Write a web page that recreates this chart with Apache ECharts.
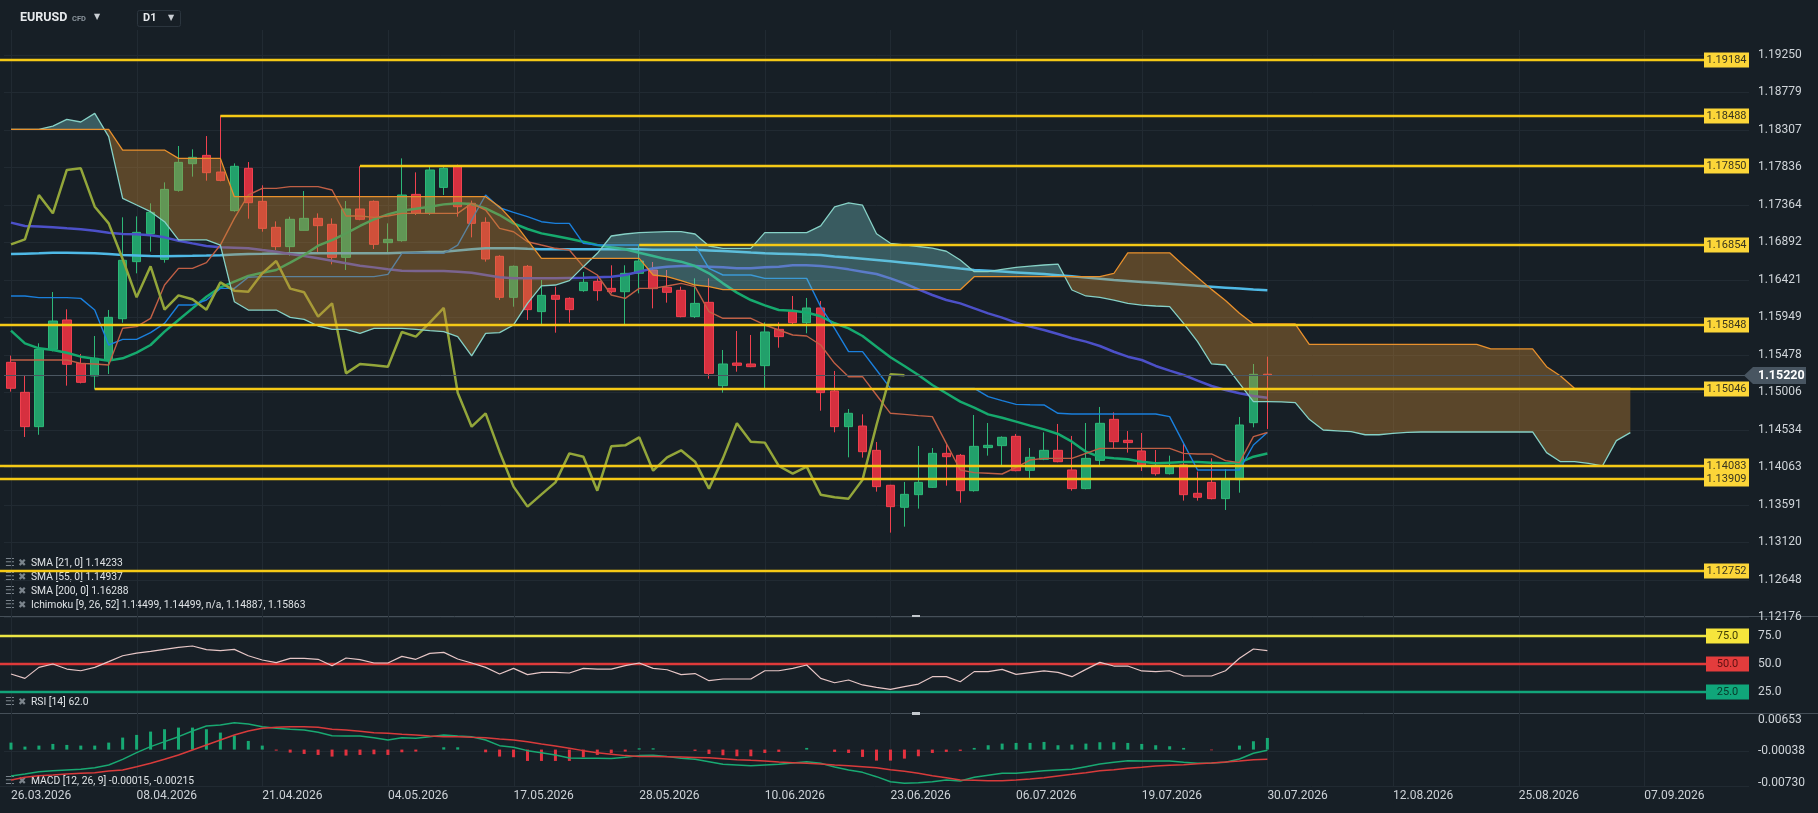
<!DOCTYPE html>
<html><head><meta charset="utf-8">
<script src="https://cdn.jsdelivr.net/npm/echarts@6/dist/echarts.min.js"></script>
<style>html,body{margin:0;padding:0;background:#171f26;}#c{width:1818px;height:813px;}</style>
</head><body><div id="c"></div>
<script>
// ---------------- DATA ----------------
const dateLabels = ["26.03.2026","08.04.2026","21.04.2026","04.05.2026","17.05.2026","28.05.2026","10.06.2026","23.06.2026","06.07.2026","19.07.2026","30.07.2026","12.08.2026","25.08.2026","07.09.2026"];

const opens = [1.15382,1.15004,1.14572,1.15545,1.15915,1.15369,1.15210,1.15411,1.15931,1.16649,
1.17001,1.16678,1.17547,1.17882,1.17987,1.17777,1.17291,1.17824,1.17408,1.17081,
1.16838,1.17043,1.17194,1.17119,1.16703,1.17312,1.17408,1.16888,1.16913,1.17496,
1.17257,1.17584,1.17853,1.17383,1.17144,1.16716,1.16200,1.16590,1.16020,1.16225,
1.16187,1.16284,1.16401,1.16313,1.16271,1.16502,1.16544,1.16326,1.16288,1.15957,
1.16137,1.15088,1.15373,1.15361,1.15340,1.15797,1.16020,1.15881,1.16066,1.15021,
1.14572,1.14580,1.14274,1.13834,1.13557,1.13716,1.13808,1.14236,1.14211,1.13766,
1.14308,1.14333,1.14450,1.14022,1.14161,1.14274,1.14027,1.13792,1.14148,1.14664,
1.14400,1.14266,1.14081,1.13980,1.14090,1.13733,1.13871,1.13666,1.13905,1.14622,
1.15232];
const closes = [1.15055,1.14572,1.15545,1.15902,1.15357,1.15130,1.15432,1.15948,1.16666,1.17018,
1.17270,1.17559,1.17899,1.17962,1.17769,1.17672,1.17849,1.17391,1.17068,1.16838,
1.17182,1.17194,1.17102,1.16703,1.17312,1.17182,1.16867,1.16930,1.17488,1.17257,
1.17803,1.17824,1.17341,1.17131,1.16682,1.16200,1.16590,1.16045,1.16225,1.16175,
1.16045,1.16389,1.16284,1.16271,1.16502,1.16657,1.16309,1.16263,1.15957,1.16124,
1.15243,1.15361,1.15344,1.15327,1.15764,1.15705,1.15881,1.16066,1.15000,1.14572,
1.14740,1.14257,1.13817,1.13565,1.13720,1.13871,1.14236,1.14194,1.13766,1.14324,
1.14337,1.14438,1.14018,1.14186,1.14274,1.14131,1.13792,1.14173,1.14614,1.14383,
1.14371,1.14077,1.13980,1.14069,1.13716,1.13683,1.13666,1.13905,1.14593,1.15231,
1.15220];
const lows = [1.15013,1.14442,1.14470,1.15520,1.15088,1.15117,1.15042,1.15235,1.15881,1.16502,
1.16775,1.16636,1.17530,1.17719,1.17668,1.17660,1.17278,1.17190,1.17026,1.16796,
1.16724,1.17040,1.16766,1.16615,1.16544,1.17170,1.16808,1.16754,1.16900,1.17236,
1.17236,1.17488,1.17215,1.16955,1.16649,1.16166,1.16082,1.15915,1.15843,1.15755,
1.15881,1.16270,1.16158,1.16250,1.15856,1.16250,1.16061,1.16133,1.15948,1.15940,
1.15176,1.15000,1.15264,1.15320,1.15042,1.15566,1.15852,1.15747,1.14773,1.14501,
1.14186,1.14182,1.13754,1.13238,1.13313,1.13540,1.13800,1.13829,1.13615,1.13754,
1.14207,1.14069,1.14010,1.13909,1.14150,1.14123,1.13766,1.13783,1.14077,1.14299,
1.14245,1.14014,1.13955,1.13970,1.13641,1.13641,1.13657,1.13523,1.13741,1.14564,
1.14543];
const highs = [1.15466,1.15210,1.15621,1.16267,1.16049,1.15487,1.15713,1.16041,1.17207,1.17219,
1.17383,1.17647,1.18105,1.18063,1.18230,1.18488,1.17886,1.17903,1.17610,1.17156,
1.17215,1.17538,1.17257,1.17194,1.17412,1.17850,1.17420,1.17131,1.17949,1.17773,
1.17865,1.17865,1.17870,1.17417,1.17207,1.16730,1.16600,1.16607,1.16418,1.16334,
1.16200,1.16519,1.16439,1.16603,1.16603,1.16854,1.16645,1.16544,1.16334,1.16439,
1.16439,1.15537,1.15776,1.15726,1.15885,1.15885,1.16217,1.16192,1.16154,1.15273,
1.14794,1.14727,1.14379,1.13840,1.13876,1.14329,1.14303,1.14354,1.14228,1.14719,
1.14618,1.14450,1.14480,1.14303,1.14501,1.14606,1.14455,1.14618,1.14820,1.14752,
1.14517,1.14492,1.14278,1.14207,1.14354,1.14006,1.14173,1.14039,1.14694,1.15361,
1.15453];

const sma21 = [1.15780,1.15621,1.15558,1.15537,1.15503,1.15453,1.15428,1.15403,1.15432,1.15503,
1.15600,1.15768,1.15915,1.16061,1.16208,1.16326,1.16397,1.16468,1.16510,1.16544,
1.16636,1.16733,1.16850,1.16921,1.17005,1.17098,1.17182,1.17244,1.17291,1.17315,
1.17341,1.17370,1.17383,1.17374,1.17320,1.17236,1.17131,1.17060,1.17005,1.16972,
1.16938,1.16900,1.16858,1.16829,1.16804,1.16762,1.16720,1.16678,1.16649,1.16594,
1.16502,1.16376,1.16259,1.16166,1.16099,1.16041,1.16030,1.16008,1.15961,1.15873,
1.15810,1.15713,1.15579,1.15445,1.15336,1.15223,1.15096,1.14992,1.14887,1.14811,
1.14727,1.14685,1.14635,1.14585,1.14538,1.14480,1.14383,1.14257,1.14190,1.14173,
1.14161,1.14131,1.14110,1.14119,1.14127,1.14127,1.14119,1.14110,1.14119,1.14194,
1.14233];
const sma55 = [1.17140,1.17098,1.17090,1.17081,1.17068,1.17056,1.17039,1.17014,1.16997,1.16993,
1.16980,1.16955,1.16913,1.16879,1.16846,1.16829,1.16825,1.16817,1.16795,1.16774,
1.16745,1.16720,1.16691,1.16661,1.16628,1.16598,1.16577,1.16552,1.16536,1.16531,
1.16531,1.16531,1.16523,1.16510,1.16481,1.16452,1.16439,1.16439,1.16439,1.16439,
1.16443,1.16447,1.16452,1.16460,1.16481,1.16523,1.16565,1.16586,1.16594,1.16594,
1.16586,1.16578,1.16565,1.16565,1.16578,1.16586,1.16603,1.16603,1.16594,1.16577,
1.16552,1.16523,1.16494,1.16439,1.16376,1.16301,1.16229,1.16166,1.16124,1.16061,
1.15998,1.15944,1.15881,1.15831,1.15789,1.15738,1.15684,1.15642,1.15587,1.15515,
1.15453,1.15411,1.15336,1.15277,1.15222,1.15151,1.15084,1.15034,1.14992,1.14958,
1.14937];
const sma200 = [1.16745,1.16750,1.16754,1.16760,1.16762,1.16758,1.16754,1.16745,1.16733,1.16727,
1.16720,1.16718,1.16720,1.16722,1.16725,1.16730,1.16740,1.16745,1.16748,1.16752,
1.16754,1.16755,1.16755,1.16755,1.16755,1.16755,1.16755,1.16755,1.16760,1.16765,
1.16770,1.16775,1.16790,1.16805,1.16817,1.16817,1.16817,1.16810,1.16804,1.16804,
1.16804,1.16804,1.16804,1.16804,1.16804,1.16804,1.16798,1.16798,1.16798,1.16798,
1.16790,1.16782,1.16773,1.16763,1.16754,1.16749,1.16744,1.16738,1.16733,1.16715,
1.16700,1.16686,1.16670,1.16653,1.16636,1.16619,1.16600,1.16581,1.16562,1.16544,
1.16534,1.16524,1.16514,1.16504,1.16494,1.16479,1.16464,1.16448,1.16433,1.16418,
1.16406,1.16394,1.16382,1.16370,1.16358,1.16346,1.16334,1.16322,1.16310,1.16298,
1.16288];
const tenkan = [1.16217,1.16217,1.16196,1.16196,1.16196,1.16187,1.16041,1.15600,1.15671,1.15671,
1.15755,1.15873,1.16103,1.16103,1.16166,1.16313,1.16313,1.16452,1.16460,1.16460,
1.16460,1.16460,1.16460,1.16460,1.16460,1.16460,1.16460,1.16489,1.16754,1.16762,
1.16754,1.16754,1.16858,1.17173,1.17488,1.17328,1.17270,1.17215,1.17152,1.17131,
1.17131,1.16880,1.16859,1.16859,1.16859,1.16859,1.16859,1.16859,1.16859,1.16859,
1.16565,1.16481,1.16481,1.16481,1.16439,1.16439,1.16439,1.16439,1.16083,1.15810,
1.15516,1.15516,1.15285,1.15054,1.15054,1.15054,1.15054,1.15054,1.15054,1.15054,
1.14950,1.14899,1.14853,1.14848,1.14845,1.14740,1.14731,1.14731,1.14731,1.14731,
1.14731,1.14731,1.14731,1.14698,1.14362,1.14027,1.14027,1.14027,1.14027,1.14341,
1.14499];
const kijun = [1.15411,1.15411,1.15411,1.15411,1.15411,1.15369,1.15360,1.15348,1.15810,1.15831,
1.15935,1.16355,1.16565,1.16565,1.16636,1.16858,1.17194,1.17488,1.17572,1.17572,
1.17593,1.17593,1.17593,1.17551,1.17224,1.17224,1.17207,1.17224,1.17257,1.17257,
1.17257,1.17257,1.17257,1.17383,1.17299,1.17068,1.17026,1.16900,1.16858,1.16817,
1.16796,1.16586,1.16481,1.16229,1.16187,1.16313,1.16313,1.16343,1.16376,1.16334,
1.16020,1.15936,1.15936,1.15936,1.15852,1.15789,1.15726,1.15713,1.15600,1.15369,
1.15201,1.15201,1.14971,1.14740,1.14727,1.14711,1.14698,1.14362,1.14027,1.13993,
1.13985,1.13976,1.14060,1.14152,1.14173,1.14173,1.14173,1.14236,1.14299,1.14299,
1.14299,1.14299,1.14299,1.14299,1.14236,1.14228,1.14228,1.14144,1.14119,1.14446,
1.14499];
const senkouA = [1.18314,1.18314,1.18314,1.18356,1.18440,1.18407,1.18516,1.18222,1.17446,1.17362,
1.17278,1.17152,1.16922,1.16922,1.16922,1.16858,1.16145,1.16040,1.16040,1.16040,
1.15948,1.15923,1.15839,1.15797,1.15797,1.15747,1.15810,1.15810,1.15810,1.15797,
1.15780,1.15768,1.15705,1.15462,1.15747,1.15755,1.15852,1.16124,1.16343,1.16355,
1.16410,1.16586,1.16754,1.16972,1.16997,1.17014,1.17020,1.17026,1.17026,1.16997,
1.16846,1.16817,1.16817,1.16817,1.17014,1.17014,1.17014,1.17014,1.17100,1.17340,
1.17390,1.17360,1.17000,1.16880,1.16860,1.16840,1.16820,1.16780,1.16670,1.16523,
1.16523,1.16552,1.16577,1.16594,1.16607,1.16619,1.16292,1.16217,1.16200,1.16166,
1.16124,1.16103,1.16091,1.16082,1.15873,1.15642,1.15361,1.15348,1.15117,1.14887,
1.14887,1.14883,1.14874,1.14664,1.14530,1.14520,1.14509,1.14470,1.14470,1.14488,
1.14501,1.14505,1.14505,1.14505,1.14505,1.14505,1.14505,1.14505,1.14505,1.14505,
1.14245,1.14131,1.14131,1.14110,1.14077,1.14396,1.14497];
const senkouB = [1.18314,1.18314,1.18314,1.18314,1.18314,1.18314,1.18314,1.18314,1.18054,1.18054,
1.18054,1.18054,1.17949,1.17949,1.17949,1.17949,1.17467,1.17467,1.17467,1.17467,
1.17467,1.17467,1.17467,1.17467,1.17467,1.17467,1.17467,1.17467,1.17467,1.17467,
1.17467,1.17467,1.17467,1.17467,1.17467,1.17341,1.17152,1.16921,1.16691,1.16691,
1.16691,1.16691,1.16691,1.16691,1.16691,1.16691,1.16481,1.16460,1.16410,1.16355,
1.16334,1.16296,1.16296,1.16296,1.16296,1.16296,1.16296,1.16296,1.16296,1.16296,
1.16296,1.16296,1.16296,1.16296,1.16296,1.16296,1.16296,1.16296,1.16296,1.16460,
1.16460,1.16460,1.16460,1.16460,1.16460,1.16460,1.16460,1.16460,1.16460,1.16500,
1.16760,1.16760,1.16760,1.16760,1.16600,1.16450,1.16300,1.16160,1.16000,1.15864,
1.15864,1.15864,1.15864,1.15608,1.15608,1.15608,1.15608,1.15608,1.15608,1.15608,
1.15608,1.15608,1.15608,1.15608,1.15608,1.15608,1.15550,1.15550,1.15550,1.15550,
1.15327,1.15210,1.15055,1.15055,1.15055,1.15055,1.15055];

const rsi = [41.1,37.2,47.0,50.0,45.5,44.0,47.0,52.1,57.4,59.8,
61.3,63.1,64.9,66.1,62.8,61.9,63.1,57.4,53.6,51.2,
55.1,55.1,54.2,48.5,55.4,53.9,50.9,50.9,56.8,54.2,
59.5,60.4,54.5,50.9,47.0,41.1,46.1,40.5,42.6,42.6,
42.0,46.1,45.5,45.5,48.5,50.9,46.1,44.9,40.5,41.5,
35.1,36.6,36.6,36.6,44.0,44.0,46.1,49.1,37.2,33.3,
35.7,31.3,29.2,27.4,29.8,32.1,38.7,38.7,34.2,43.2,
43.2,45.2,40.8,42.3,43.8,42.6,38.7,45.2,51.5,48.2,
48.2,43.8,43.2,44.0,39.3,39.3,39.3,44.0,55.1,63.4,
62.0];
const macd = [-0.00582,-0.00538,-0.00487,-0.00465,-0.00450,-0.00435,-0.00399,-0.00340,-0.00215,-0.00068,
0.00065,0.00175,0.00285,0.00410,0.00521,0.00543,0.00594,0.00565,0.00506,0.00469,
0.00447,0.00432,0.00381,0.00307,0.00300,0.00300,0.00263,0.00212,0.00263,0.00249,
0.00285,0.00322,0.00300,0.00285,0.00212,0.00087,0.00050,-0.00023,-0.00068,-0.00119,
-0.00185,-0.00192,-0.00192,-0.00199,-0.00170,-0.00133,-0.00126,-0.00155,-0.00192,-0.00214,
-0.00266,-0.00325,-0.00340,-0.00355,-0.00340,-0.00325,-0.00296,-0.00266,-0.00303,-0.00384,
-0.00450,-0.00502,-0.00597,-0.00708,-0.00744,-0.00730,-0.00708,-0.00671,-0.00693,-0.00612,
-0.00568,-0.00524,-0.00524,-0.00494,-0.00465,-0.00450,-0.00435,-0.00377,-0.00318,-0.00281,
-0.00244,-0.00251,-0.00251,-0.00251,-0.00281,-0.00303,-0.00296,-0.00281,-0.00207,-0.00082,
-0.00015];
const macdSignal = [-0.00671,-0.00612,-0.00575,-0.00559,-0.00538,-0.00523,-0.00509,-0.00472,-0.00450,-0.00377,
-0.00303,-0.00215,-0.00119,-0.00008,0.00102,0.00212,0.00322,0.00410,0.00469,0.00491,
0.00506,0.00506,0.00491,0.00447,0.00432,0.00403,0.00373,0.00359,0.00337,0.00322,
0.00300,0.00285,0.00285,0.00271,0.00263,0.00234,0.00212,0.00175,0.00124,0.00080,
0.00029,-0.00023,-0.00068,-0.00104,-0.00133,-0.00150,-0.00155,-0.00160,-0.00165,-0.00172,
-0.00180,-0.00200,-0.00222,-0.00237,-0.00251,-0.00273,-0.00288,-0.00303,-0.00318,-0.00340,
-0.00354,-0.00376,-0.00399,-0.00443,-0.00479,-0.00524,-0.00575,-0.00619,-0.00671,-0.00678,
-0.00685,-0.00685,-0.00671,-0.00649,-0.00619,-0.00582,-0.00546,-0.00509,-0.00465,-0.00443,
-0.00413,-0.00391,-0.00362,-0.00347,-0.00332,-0.00310,-0.00296,-0.00273,-0.00251,-0.00222,
-0.00215];
const macdHist = [0.00154,0.00066,0.00088,0.00125,0.00103,0.00088,0.00088,0.00154,0.00265,0.00324,
0.00397,0.00449,0.00485,0.00485,0.00449,0.00375,0.00309,0.00191,0.00088,-0.00022,
-0.00066,-0.00096,-0.00118,-0.00154,-0.00132,-0.00118,-0.00103,-0.00118,-0.00059,-0.00044,
0,0.00051,0.00051,0,-0.00059,-0.00154,-0.00169,-0.00250,-0.00250,-0.00250,
-0.00250,-0.00169,-0.00118,-0.00081,-0.00044,0.00029,0.00029,0,0,-0.00029,
-0.00096,-0.00125,-0.00147,-0.00147,-0.00074,-0.00051,0,0.00037,0,-0.00051,
-0.00074,-0.00162,-0.00243,-0.00243,-0.00199,-0.00147,-0.00074,-0.00051,-0.00029,0.00037,
0.00096,0.00132,0.00147,0.00147,0.00169,0.00096,0.00110,0.00132,0.00162,0.00162,
0.00147,0.00125,0.00096,0.00074,0.00037,0,-0.00015,0,0.00088,0.00184,
0.00257];

const levelPrices = [1.19184,1.18488,1.17850,1.16854,1.15848,1.15046,1.14083,1.13909,1.12752];
const levelStartBar = [null,15,25,45,null,6,null,null,null];
const lastPrice = 1.15220;
const priceTicks = [1.19250,1.18779,1.18307,1.17836,1.17364,1.16892,1.16421,1.15949,1.15478,1.15006,1.14534,1.14063,1.13591,1.13120,1.12648,1.12176];
const rsiLevels = [75,50,25];
const macdTicks = [0.00653,-0.00038,-0.00730];
const legendTexts = ["SMA [21, 0] 1.14233","SMA [55, 0] 1.14937","SMA [200, 0] 1.16288","Ichimoku [9, 26, 52] 1.14499, 1.14499, n/a, 1.14887, 1.15863"];
const rsiLegend = "RSI [14] 62.0";
const macdLegend = "MACD [12, 26, 9] -0.00015, -0.00215";

// ---------------- LAYOUT / STYLE ----------------
const AXIS_SLOTS = 125, LABEL_STEP = 9, CHIKOU_SHIFT = 26;
const categories = Array.from({length: AXIS_SLOTS}, (_, i) => String(i));
const chikou = closes.slice(CHIKOU_SHIFT);
const FONT = 'Roboto';
const GRID_COLOR = '#212a32';
const rsiLevelStyle = [
  {line:'#ece544', box:'#f6e53c', text:'#3d3a05'},
  {line:'#df3a3a', box:'#e33c3c', text:'#5c1111'},
  {line:'#12a57a', box:'#10a67a', text:'#08382a'}
];

const chart = echarts.init(document.getElementById('c'), null, {renderer:'canvas'});

function gridLines(hTicks, bottomLine) {
  return function (params, api) {
    const cs = params.coordSys, ch = [];
    for (let k = 0; k < dateLabels.length; k++) {
      const x = Math.round(api.coord([k * LABEL_STEP, hTicks.length ? hTicks[0] : 0])[0]) + 0.5;
      ch.push({type:'line', shape:{x1:x, y1:cs.y, x2:x, y2:cs.y + cs.height}, style:{stroke:GRID_COLOR, lineWidth:1}});
    }
    hTicks.forEach(v => {
      const y = Math.round(api.coord([0, v])[1]) + 0.5;
      ch.push({type:'line', shape:{x1:cs.x, y1:y, x2:cs.x + cs.width, y2:y}, style:{stroke:GRID_COLOR, lineWidth:1}});
    });
    if (bottomLine) {
      const y = Math.round(cs.y + cs.height) - 0.5;
      ch.push({type:'line', shape:{x1:0, y1:y, x2:cs.x + cs.width, y2:y}, style:{stroke:GRID_COLOR, lineWidth:1}});
    }
    return {type:'group', children: ch};
  };
}

function cloud(params, api) {
  const teal = 'rgba(120,200,200,0.36)', brown = 'rgba(200,135,50,0.38)';
  const ch = [];
  let aPts = [], bPts = [], sign = 0;
  const poly = (a, b, s) => ({type:'polygon', shape:{points: a.concat(b.slice().reverse())}, style:{fill: s >= 0 ? teal : brown}});
  for (let i = 0; i < senkouA.length; i++) {
    const d = senkouA[i] - senkouB[i];
    const pa = api.coord([i, senkouA[i]]), pb = api.coord([i, senkouB[i]]);
    const s = d > 0 ? 1 : (d < 0 ? -1 : 0);
    if (i > 0) {
      const dp = senkouA[i-1] - senkouB[i-1];
      if (dp * d < 0) {
        const t = dp / (dp - d);
        const pa0 = api.coord([i-1, senkouA[i-1]]);
        const x = [pa0[0] + t * (pa[0] - pa0[0]), pa0[1] + t * (pa[1] - pa0[1])];
        aPts.push(x); bPts.push(x);
        ch.push(poly(aPts, bPts, sign));
        aPts = [x]; bPts = [x]; sign = s;
      }
    }
    if (sign === 0) sign = s;
    aPts.push(pa); bPts.push(pb);
  }
  ch.push(poly(aPts, bPts, sign));
  return {type:'group', children: ch};
}

function levelItem(params, api) {
  const cs = params.coordSys;
  const sb = api.value(0), v = api.value(1);
  const y = Math.round(api.coord([0, v])[1]);
  const x0 = isNaN(sb) ? 0 : api.coord([sb, v])[0];
  const xr = cs.x + cs.width;
  return {type:'group', children:[
    {type:'line', shape:{x1:x0, y1:y, x2:xr, y2:y}, style:{stroke:'#f5c916', lineWidth:2.5}},
    {type:'rect', shape:{x:xr-45, y:y-7.5, width:45, height:15}, style:{fill:'#fcd638'}},
    {type:'text', style:{text:v.toFixed(5), x:xr-22.5, y:y+0.5, align:'center', verticalAlign:'middle', fill:'#38351f', fontSize:11, fontFamily:FONT}}
  ]};
}

function lastPriceItem(params, api) {
  const cs = params.coordSys, v = api.value(1);
  const y = Math.round(api.coord([0, v])[1]) + 0.5;
  const xr = cs.x + cs.width;
  return {type:'group', children:[
    {type:'line', shape:{x1:cs.x, y1:y, x2:xr, y2:y}, style:{stroke:'#4b5762', lineWidth:1}},
    {type:'polygon', shape:{points:[[xr-5, y], [xr+4, y-8.5], [xr+57, y-8.5], [xr+57, y+8.5], [xr+4, y+8.5]]}, style:{fill:'#485561'}},
    {type:'text', style:{text:v.toFixed(5), x:xr+9, y:y+0.5, verticalAlign:'middle', fill:'#ffffff', fontSize:12.5, fontWeight:'bold', fontFamily:FONT}}
  ]};
}

function rsiLevelItem(params, api) {
  const cs = params.coordSys, i = params.dataIndex, v = api.value(1);
  const st = rsiLevelStyle[i];
  const y = Math.round(api.coord([0, v])[1]);
  const xr = cs.x + cs.width;
  return {type:'group', children:[
    {type:'line', shape:{x1:0, y1:y, x2:xr, y2:y}, style:{stroke:st.line, lineWidth:2.5}},
    {type:'rect', shape:{x:xr-43, y:y-7.5, width:43, height:15}, style:{fill:st.box}},
    {type:'text', style:{text:v.toFixed(1), x:xr-21.5, y:y+0.5, align:'center', verticalAlign:'middle', fill:st.text, fontSize:11, fontFamily:FONT}}
  ]};
}

function xAx(gi, show) {
  return {
    type:'category', gridIndex:gi, data:categories, boundaryGap:true,
    axisLine:{show:false}, axisTick:{show:false}, splitLine:{show:false},
    axisLabel: show ? {
      show:true, interval:(i) => i % LABEL_STEP === 0 && i / LABEL_STEP < dateLabels.length,
      formatter:(v, i) => dateLabels[i / LABEL_STEP] || '', align:'left',
      color:'#cdd2d7', fontSize:12, fontFamily:FONT, margin:3
    } : {show:false}
  };
}

function lineS(data, color, width, z) {
  return {type:'line', xAxisIndex:0, yAxisIndex:0, data, showSymbol:false, symbol:'none', silent:true,
    lineStyle:{color, width}, z, emphasis:{disabled:true}};
}

const legendGraphics = [];
function addLegend(text, y) {
  legendGraphics.push({type:'text', x:5, y, style:{text:'☰', fill:'#7b848c', fontSize:11, fontFamily:'DejaVu Sans', verticalAlign:'middle'}});
  legendGraphics.push({type:'text', x:18, y, style:{text:'✖', fill:'#7b848c', fontSize:10, fontFamily:'DejaVu Sans', verticalAlign:'middle'}});
  legendGraphics.push({type:'text', x:31, y, style:{text, fill:'#dfe3e6', fontSize:10.3, fontFamily:FONT, verticalAlign:'middle'}});
}
legendTexts.forEach((t, i) => addLegend(t, 563 + i * 14));
addLegend(rsiLegend, 702);
addLegend(macdLegend, 781);

const option = {
  backgroundColor:'#171f26',
  animation:false,
  grid:[
    {left:4, right:69, top:30, height:587},
    {left:4, right:69, top:617, height:96},
    {left:4, right:69, top:713, height:74}
  ],
  xAxis:[xAx(0,false), xAx(1,false), xAx(2,true)],
  yAxis:[
    {type:'value', gridIndex:0, position:'right', min:1.12176, max:1.19565, scale:true,
      axisLine:{show:false}, axisTick:{show:false}, splitLine:{show:false},
      axisLabel:{customValues:priceTicks, formatter:v => v.toFixed(5), color:'#cfd4d9', fontSize:12, fontFamily:FONT, margin:9}},
    {type:'value', gridIndex:1, position:'right', min:6.25, max:92,
      axisLine:{show:false}, axisTick:{show:false}, splitLine:{show:false},
      axisLabel:{customValues:rsiLevels, formatter:v => v.toFixed(1), color:'#cfd4d9', fontSize:12, fontFamily:FONT, margin:9}},
    {type:'value', gridIndex:2, position:'right', min:-0.00825, max:0.00807,
      axisLine:{show:false}, axisTick:{show:false}, splitLine:{show:false},
      axisLabel:{customValues:macdTicks, formatter:v => v.toFixed(5), color:'#cfd4d9', fontSize:12, fontFamily:FONT, margin:9}}
  ],
  graphic:[
    {type:'text', x:20, y:18, style:{text:'EURUSD', fill:'#e6e9ec', fontSize:12.5, fontWeight:'bold', fontFamily:FONT, verticalAlign:'middle'}},
    {type:'text', x:72, y:19, style:{text:'CFD', fill:'#8a949c', fontSize:7.5, fontWeight:'bold', fontFamily:FONT, verticalAlign:'middle'}},
    {type:'text', x:94, y:17, style:{text:'▼', fill:'#c9ced3', fontSize:8, fontFamily:'DejaVu Sans', verticalAlign:'middle'}},
    {type:'rect', shape:{x:137.5, y:10.5, width:43, height:16, r:2}, style:{fill:'none', stroke:'#2b353e', lineWidth:1}},
    {type:'text', x:143, y:18.5, style:{text:'D1', fill:'#e6e9ec', fontSize:11, fontWeight:'bold', fontFamily:FONT, verticalAlign:'middle'}},
    {type:'text', x:168, y:18, style:{text:'▼', fill:'#c9ced3', fontSize:8, fontFamily:'DejaVu Sans', verticalAlign:'middle'}},
    {type:'line', shape:{x1:0, y1:616.5, x2:1818, y2:616.5}, style:{stroke:'#454f58', lineWidth:1}},
    {type:'line', shape:{x1:0, y1:713.5, x2:1818, y2:713.5}, style:{stroke:'#454f58', lineWidth:1}},
    {type:'rect', shape:{x:912, y:615, width:8, height:3}, style:{fill:'#c3c8cd'}},
    {type:'rect', shape:{x:912, y:712, width:8, height:3}, style:{fill:'#c3c8cd'}}
  ].concat(legendGraphics),
  series:[
    {type:'custom', xAxisIndex:0, yAxisIndex:0, silent:true, z:0, data:[[0, priceTicks[0]]], renderItem:gridLines(priceTicks, false)},
    {type:'custom', xAxisIndex:1, yAxisIndex:1, silent:true, z:0, data:[[0, 50]], renderItem:gridLines([], false)},
    {type:'custom', xAxisIndex:2, yAxisIndex:2, silent:true, z:0, data:[[0, 0]], renderItem:gridLines([macdTicks[1]], true)},
    {type:'candlestick', xAxisIndex:0, yAxisIndex:0, barWidth:9, silent:true, z:2,
      data: opens.map((o, i) => [o, closes[i], lows[i], highs[i]]),
      itemStyle:{color:'#22a06b', color0:'#d6303f', borderColor:'#2db877', borderColor0:'#f0414f', borderWidth:1}},
    lineS(sma200, '#4fb9e6', 2.5, 3),
    lineS(sma55, '#4c50c8', 2.5, 3),
    lineS(sma21, '#16aa6e', 2.5, 3),
    lineS(tenkan, '#1a7fdc', 1.4, 3),
    lineS(kijun, '#c05f45', 1.4, 3),
    lineS(chikou, '#93a63a', 2.5, 3),
    {type:'custom', xAxisIndex:0, yAxisIndex:0, silent:true, z:4, data:[[0, senkouA[0]]], renderItem:cloud},
    lineS(senkouA, '#86d1c6', 1.3, 5),
    lineS(senkouB, '#e8902c', 1.3, 5),
    {type:'custom', xAxisIndex:0, yAxisIndex:0, silent:true, z:6, data:[[0, lastPrice]], renderItem:lastPriceItem},
    {type:'custom', xAxisIndex:0, yAxisIndex:0, silent:true, z:7, data:levelPrices.map((v, i) => [levelStartBar[i] === null ? NaN : levelStartBar[i], v]), renderItem:levelItem},
    {type:'custom', xAxisIndex:1, yAxisIndex:1, silent:true, z:3, data:rsiLevels.map(v => [0, v]), renderItem:rsiLevelItem},
    {type:'line', xAxisIndex:1, yAxisIndex:1, data:rsi, showSymbol:false, symbol:'none', silent:true, lineStyle:{color:'#e6c6c6', width:1.2}, z:4},
    {type:'bar', xAxisIndex:2, yAxisIndex:2, data:macdHist, barWidth:3, silent:true, z:2,
      itemStyle:{color:(p) => p.value >= 0 ? '#17a873' : '#e3323f'}},
    {type:'line', xAxisIndex:2, yAxisIndex:2, data:macd, showSymbol:false, symbol:'none', silent:true, lineStyle:{color:'#19a972', width:1.5}, z:3},
    {type:'line', xAxisIndex:2, yAxisIndex:2, data:macdSignal, showSymbol:false, symbol:'none', silent:true, lineStyle:{color:'#d83b3b', width:1.5}, z:3}
  ]
};
chart.setOption(option);
</script>
</body></html>
